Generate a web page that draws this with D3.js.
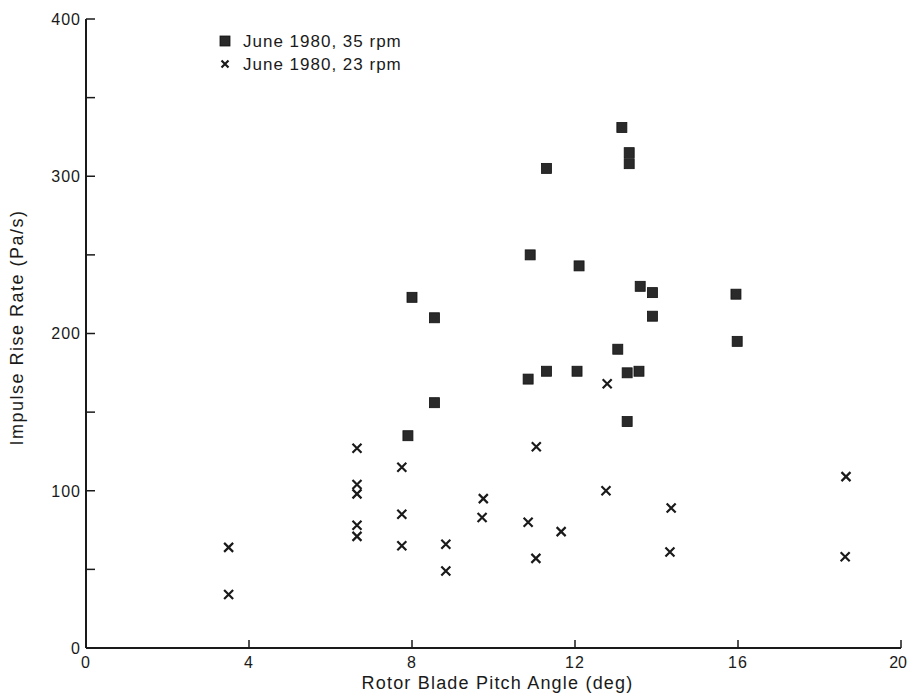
<!DOCTYPE html>
<html lang="en">
<head>
<meta charset="UTF-8">
<title>Impulse Rise Rate vs Pitch Angle</title>
<script src="https://d3js.org/d3.v7.min.js"></script>
<style>
  body { margin: 0; background: #fff; }
  svg { display: block; font-family: "Liberation Sans", Arial, sans-serif; }
</style>
</head>
<body>
<svg width="909" height="694"></svg>
<script>
// June 1980, 35 rpm (squares): [pitch angle deg, impulse rise rate Pa/s]
var rpm35 = [
  [7.9, 135], [8.0, 223], [8.55, 210], [8.55, 156],
  [10.9, 250], [10.85, 171], [11.3, 305], [11.3, 176],
  [12.1, 243], [12.05, 176], [13.05, 190], [13.15, 331],
  [13.33, 315], [13.33, 308], [13.28, 175], [13.57, 176],
  [13.28, 144], [13.6, 230], [13.9, 226], [13.9, 211],
  [15.95, 225], [15.98, 195]
];
// June 1980, 23 rpm (crosses)
var rpm23 = [
  [3.5, 64], [3.5, 34],
  [6.65, 127], [6.65, 104], [6.65, 98], [6.65, 78], [6.65, 71],
  [7.75, 115], [7.75, 85], [7.75, 65],
  [8.83, 66], [8.83, 49],
  [9.75, 95], [9.72, 83],
  [10.85, 80], [11.05, 128], [11.04, 57], [11.66, 74],
  [12.76, 100], [12.79, 168],
  [14.36, 89], [14.33, 61],
  [18.65, 109], [18.63, 58]
];
var xTicks = [0, 4, 8, 12, 16, 20];
var yTicks = [0, 100, 200, 300, 400];
var yMinor = [50, 150, 250, 350];
var legendLabels = ["June 1980, 35 rpm", "June 1980, 23 rpm"];

var svg = d3.select("svg");
var x = d3.scaleLinear().domain([0, 20]).range([86, 901]);
var y = d3.scaleLinear().domain([0, 400]).range([648, 19]);
var ink = "#1a1a1a";

// axes lines
svg.append("line").attr("x1", x(0)).attr("x2", x(20)).attr("y1", y(0)).attr("y2", y(0))
  .attr("stroke", ink).attr("stroke-width", 2);
svg.append("line").attr("x1", x(0)).attr("x2", x(0)).attr("y1", y(0)).attr("y2", y(400))
  .attr("stroke", ink).attr("stroke-width", 2);

// x ticks (inward, upward)
var xt = svg.append("g").selectAll("g").data(xTicks).enter().append("g");
xt.filter(function(d) { return d > 0; }).append("line")
  .attr("x1", x).attr("x2", x).attr("y1", y(0)).attr("y2", y(0) - 8)
  .attr("stroke", ink).attr("stroke-width", 1.5);
xt.append("text")
  .attr("x", function(d) { return d === 20 ? 907 : x(d); })
  .attr("y", y(0) + 20)
  .attr("text-anchor", function(d) { return d === 20 ? "end" : "middle"; })
  .attr("font-size", 16)
  .attr("letter-spacing", function(d) { return d === 20 ? 0 : 1; })
  .attr("fill", ink)
  .text(function(d) { return d; });

// y ticks (inward, right)
var yt = svg.append("g").selectAll("g").data(yTicks).enter().append("g");
yt.append("line")
  .attr("x1", x(0)).attr("x2", x(0) + 9).attr("y1", y).attr("y2", y)
  .attr("stroke", ink).attr("stroke-width", 1.5);
yt.append("text")
  .attr("x", x(0) - 5).attr("y", y).attr("dy", "0.36em")
  .attr("text-anchor", "end").attr("font-size", 16).attr("letter-spacing", 1)
  .attr("fill", ink)
  .text(function(d) { return d; });
svg.append("g").selectAll("line").data(yMinor).enter().append("line")
  .attr("x1", x(0)).attr("x2", x(0) + 9).attr("y1", y).attr("y2", y)
  .attr("stroke", ink).attr("stroke-width", 1.5);

// axis titles
svg.append("text")
  .attr("x", (x(0) + x(20)) / 2 + 4).attr("y", 689)
  .attr("text-anchor", "middle").attr("font-size", 18).attr("letter-spacing", 1.2)
  .attr("fill", ink)
  .text("Rotor Blade Pitch Angle (deg)");
svg.append("text")
  .attr("transform", "translate(23," + (y(200) - 6) + ")rotate(-90)")
  .attr("text-anchor", "middle").attr("font-size", 18).attr("letter-spacing", 1.5)
  .attr("fill", ink)
  .text("Impulse Rise Rate (Pa/s)");

// squares
svg.append("g").selectAll("rect").data(rpm35).enter().append("rect")
  .attr("x", function(d) { return x(d[0]) - 5; })
  .attr("y", function(d) { return y(d[1]) - 5; })
  .attr("width", 10).attr("height", 10)
  .attr("fill", "#2a2a2a").attr("stroke", "#111").attr("stroke-width", 0.8);

// crosses
function cross(sel, s) {
  sel.append("path")
    .attr("d", "M" + (-s) + "," + (-s) + "L" + s + "," + s + "M" + (-s) + "," + s + "L" + s + "," + (-s))
    .attr("stroke", ink).attr("stroke-width", 2.2).attr("fill", "none");
}
svg.append("g").selectAll("g").data(rpm23).enter().append("g")
  .attr("transform", function(d) { return "translate(" + x(d[0]) + "," + y(d[1]) + ")"; })
  .call(cross, 4.5);

// legend
var lg = svg.append("g").attr("transform", "translate(225,41)");
lg.append("rect").attr("x", -5).attr("y", -5).attr("width", 10).attr("height", 10)
  .attr("fill", "#2a2a2a").attr("stroke", "#111").attr("stroke-width", 0.8);
lg.append("g").attr("transform", "translate(0,23)").call(cross, 3.5);
lg.selectAll("text").data(legendLabels).enter().append("text")
  .attr("x", 18).attr("y", function(d, i) { return i * 23; }).attr("dy", "0.36em")
  .attr("font-size", 17).attr("letter-spacing", 1)
  .attr("fill", ink)
  .text(function(d) { return d; });
</script>
</body>
</html>
